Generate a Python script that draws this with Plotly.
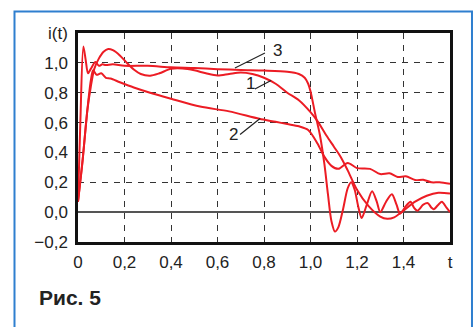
import plotly.graph_objects as go

# ---- data ----
t1 = [0, 0.02, 0.04, 0.055, 0.07, 0.09, 0.11, 0.13, 0.15, 0.18, 0.21, 0.24, 0.27, 0.31,
      0.35, 0.4, 0.45, 0.5, 0.55, 0.6, 0.65, 0.7, 0.75, 0.8, 0.85, 0.9, 0.95, 1.0, 1.03,
      1.07, 1.1, 1.13, 1.16, 1.2, 1.25, 1.3, 1.33, 1.36, 1.4, 1.45, 1.5, 1.55, 1.6]
i1 = [0.07, 0.35, 0.68, 0.84, 0.96, 1.03, 1.075, 1.093, 1.085, 1.05, 1.0, 0.955, 0.925, 0.914,
      0.93, 0.96, 0.962, 0.95, 0.93, 0.915, 0.925, 0.935, 0.925, 0.9, 0.86, 0.8, 0.75, 0.67, 0.61,
      0.51, 0.44, 0.37, 0.28, 0.15, 0.04, -0.03, -0.045, -0.035, 0.01, 0.07, 0.11, 0.13, 0.125]

t2 = [0, 0.02, 0.04, 0.055, 0.065, 0.08, 0.1, 0.12, 0.14, 0.18, 0.24, 0.31, 0.4, 0.525, 0.65,
      0.78, 0.85, 0.9, 0.95, 0.99, 1.03, 1.06, 1.09, 1.12, 1.16, 1.2, 1.256, 1.3, 1.34, 1.375,
      1.41, 1.45, 1.485, 1.52, 1.555, 1.6]
i2 = [0.07, 0.35, 0.68, 0.88, 0.95, 0.92, 0.93, 0.9, 0.895, 0.87, 0.835, 0.80, 0.76, 0.707, 0.675,
      0.625, 0.605, 0.59, 0.575, 0.55, 0.46, 0.37, 0.31, 0.29, 0.33, 0.295, 0.29, 0.255, 0.26, 0.235,
      0.24, 0.215, 0.217, 0.2, 0.2, 0.19]

t3 = [0, 0.01, 0.023, 0.033, 0.043, 0.055, 0.075, 0.09, 0.105, 0.12, 0.15, 0.2, 0.3, 0.4, 0.5,
      0.6, 0.7, 0.8, 0.9, 0.95, 0.975, 0.99, 1.0, 1.02, 1.04, 1.06, 1.075, 1.09, 1.105, 1.12,
      1.14, 1.16, 1.175, 1.19, 1.205, 1.22, 1.24, 1.265, 1.285, 1.3, 1.325, 1.35, 1.37, 1.385,
      1.41, 1.43, 1.445, 1.46, 1.485, 1.505, 1.52, 1.53, 1.55, 1.565, 1.585, 1.6]
i3 = [0.07, 0.6, 1.11, 1.02, 0.93, 0.96, 1.005, 0.98, 0.99, 0.985, 0.99, 0.98, 0.98, 0.97, 0.965,
      0.958, 0.952, 0.948, 0.94, 0.925, 0.9, 0.86, 0.81, 0.66, 0.52, 0.32, 0.12, -0.06, -0.13, -0.1,
      0.02, 0.16, 0.2, 0.15, 0.04, -0.04, 0.04, 0.14, 0.07, 0.0, 0.07, 0.12, 0.05, -0.01,
      0.04, 0.07, 0.03, 0.01, 0.05, 0.06, 0.03, 0.02, 0.05, 0.07, 0.03, 0.0]

x_ticks = [0, 0.2, 0.4, 0.6, 0.8, 1.0, 1.2, 1.4, 1.6]
x_labels = ["0", "0,2", "0,4", "0,6", "0,8", "1,0", "1,2", "1,4", "t"]
y_ticks = [-0.2, 0.0, 0.2, 0.4, 0.6, 0.8, 1.0, 1.2]
y_labels = ["\u22120,2", "0,0", "0,2", "0,4", "0,6", "0,8", "1,0", "i(t)"]

RED = "#ec1c24"
FONT = "Liberation Sans"

fig = go.Figure()
for tt, ii in [(t2, i2), (t1, i1), (t3, i3)]:
    fig.add_trace(go.Scatter(x=tt, y=ii, mode="lines",
                             line=dict(color=RED, width=2, shape="spline", smoothing=0.8),
                             showlegend=False, hoverinfo="skip"))

# curve labels with leader lines
labels = [("3", 0.858, 1.086, 0.675, 0.966, 0.804, 1.066),
          ("1", 0.742, 0.862, 0.761, 0.825, 0.830, 0.882),
          ("2", 0.667, 0.517, 0.697, 0.520, 0.783, 0.627)]
for txt, tx, ty, x0, y0, x1, y1 in labels:
    fig.add_shape(type="line", xref="x", yref="y", x0=x0, y0=y0, x1=x1, y1=y1,
                  line=dict(color="#222", width=1.2))
    fig.add_annotation(x=tx, y=ty, xref="x", yref="y", text=txt, showarrow=False,
                       font=dict(family=FONT, size=17, color="#222"))

# blue frame around the figure
fig.add_shape(type="rect", xref="paper", yref="paper",
              x0=-0.1707, x1=1.0591, y0=-0.6, y1=1.1029,
              line=dict(color="#2f7fcf", width=2), layer="below")

fig.add_annotation(xref="paper", yref="paper", x=-0.11, y=-0.265, xanchor="left", yanchor="middle",
                   text="<b>Рис. 5</b>", showarrow=False,
                   font=dict(family=FONT, size=21, color="#222"))

fig.update_xaxes(range=[0, 1.6], tickvals=x_ticks, ticktext=x_labels,
                 showgrid=True, gridcolor="#333", gridwidth=1.2, griddash="6px,6px",
                 showline=True, linecolor="#111", linewidth=2.5, mirror=True,
                 zeroline=False, ticks="", ticklabelstandoff=3,
                 tickfont=dict(family=FONT, size=17, color="#222"), fixedrange=True)
fig.update_yaxes(range=[-0.2, 1.2], tickvals=y_ticks, ticktext=y_labels,
                 showgrid=True, gridcolor="#333", gridwidth=1.2, griddash="6px,6px",
                 showline=True, linecolor="#111", linewidth=2.5, mirror=True,
                 zeroline=True, zerolinecolor="#555", zerolinewidth=2,
                 ticks="", ticklabelstandoff=4,
                 tickfont=dict(family=FONT, size=17, color="#222"), fixedrange=True)

fig.update_layout(width=475, height=327, margin=dict(l=78, r=25, t=33, b=85),
                  paper_bgcolor="white", plot_bgcolor="white")

fig.write_html("out.html", config={"displayModeBar": False})
